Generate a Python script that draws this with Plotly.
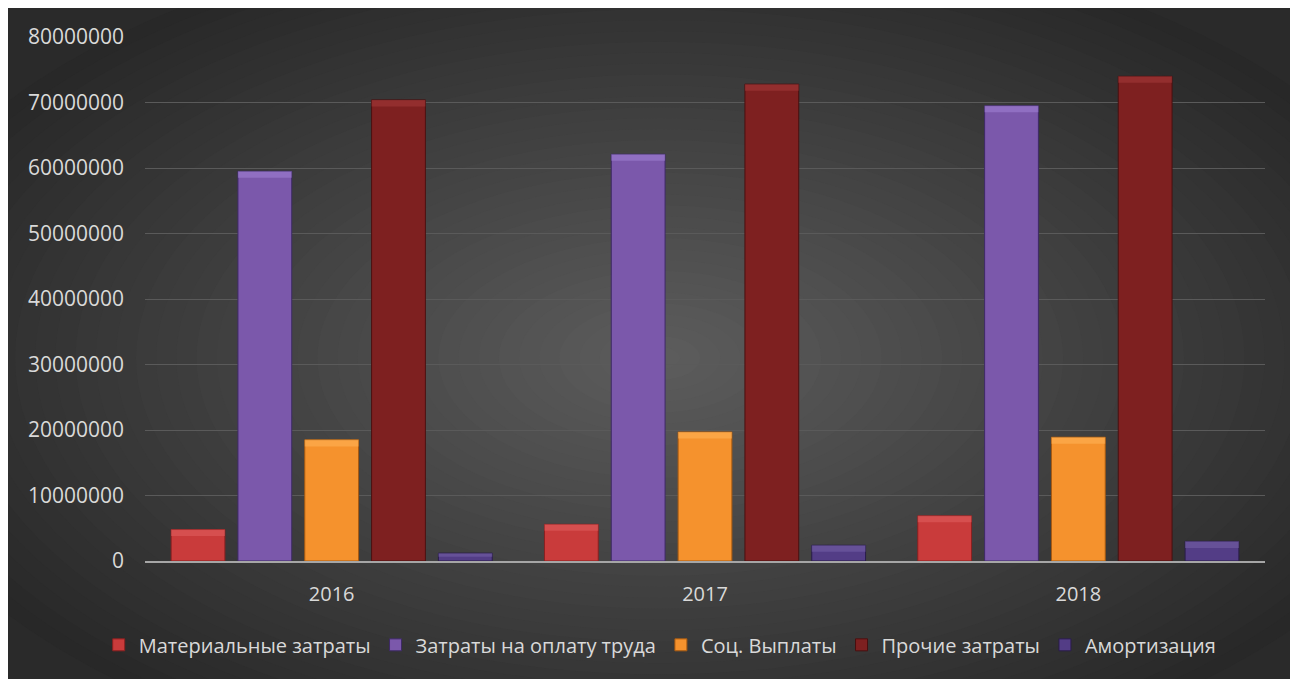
import plotly.graph_objects as go

years = ["2016", "2017", "2018"]
series_names = ["Материальные затраты", "Затраты на оплату труда", "Соц. Выплаты", "Прочие затраты", "Амортизация"]
material = [4800000, 5600000, 6900000]
labor = [59500000, 62100000, 69500000]
social = [18500000, 19700000, 18900000]
other = [70400000, 72800000, 74000000]
amort = [1200000, 2400000, 3000000]
y_ticks = [0, 10000000, 20000000, 30000000, 40000000, 50000000, 60000000, 70000000, 80000000]

values = [material, labor, social, other, amort]
colors = ["#c93b3b", "#7b58ab", "#f5922d", "#7e2020", "#533d86"]
lines = ["#8a2020", "#3e2a66", "#a85a10", "#4a1010", "#2a1d4a"]
tops = ["#e06060", "#a383d6", "#ffb45a", "#a43a3a", "#7763a8"]

# figure sits at an 8px body offset in the page
W, H = 1290, 671
L, R, T, B = 137, 1257, 29, 553

def px(x):
    return (x - L) / (R - L)

def py(y):
    return (B - y) / (B - T)

fig = go.Figure()
for i, (name, vals, c, lc) in enumerate(zip(series_names, values, colors, lines)):
    fig.add_trace(go.Bar(
        x=years, y=vals, name=name, offsetgroup=str(i),
        marker=dict(color=c, line=dict(color=lc, width=1)),
    ))
# top bevel highlights
bevel = 1000000
for i, (vals, tc) in enumerate(zip(values, tops)):
    d = [min(bevel, v * 0.45) for v in vals]
    fig.add_trace(go.Bar(
        x=years, y=d, base=[v - dd for v, dd in zip(vals, d)], offsetgroup=str(i),
        marker=dict(color=tc, opacity=0.55, line=dict(width=0)),
        showlegend=False, hoverinfo="skip",
    ))

shapes = []
cx, cy = 652, 350
N = 40
edge = (40, 40, 40)
center = (92, 92, 92)
ax = (W / 2) * 1.25
ay = (H / 2) * 1.3
for k in range(N):
    f = 1 - k / N
    t = k / (N - 1)
    col = tuple(int(round(edge[i] + (center[i] - edge[i]) * t)) for i in range(3))
    shapes.append(dict(type="circle", xref="paper", yref="paper",
                       x0=px(cx - ax * f), x1=px(cx + ax * f),
                       y0=py(cy + ay * f), y1=py(cy - ay * f),
                       fillcolor="rgb(%d,%d,%d)" % col, line=dict(width=0), layer="below"))

fig.update_layout(
    width=W, height=H,
    margin=dict(l=L, r=W - R, t=T, b=H - B),
    paper_bgcolor="#2a2a2a",
    plot_bgcolor="rgba(0,0,0,0)",
    barmode="group",
    bargap=0.105,
    bargroupgap=0.195,
    shapes=shapes,
    font=dict(family="Open Sans", size=20, color="#d9d9d9"),
    showlegend=True,
    legend=dict(orientation="h", x=0.46, xanchor="center", y=-0.16, yanchor="middle",
                font=dict(size=20, color="#d9d9d9"), bgcolor="rgba(0,0,0,0)",
                itemwidth=30, tracegroupgap=0),
    xaxis=dict(showgrid=False, showline=True, linecolor="#a6a6a6", linewidth=2,
               ticks="", ticklabelstandoff=14, tickfont=dict(size=20, color="#d9d9d9")),
    yaxis=dict(range=[0, 80000000], tickvals=y_ticks, ticktext=[str(v) for v in y_ticks],
               showgrid=True, gridcolor="#5a5a5a", gridwidth=1, zeroline=False,
               showline=False, ticklabelstandoff=20, tickfont=dict(size=21, color="#d9d9d9")),
)
fig.write_html("out.html")
